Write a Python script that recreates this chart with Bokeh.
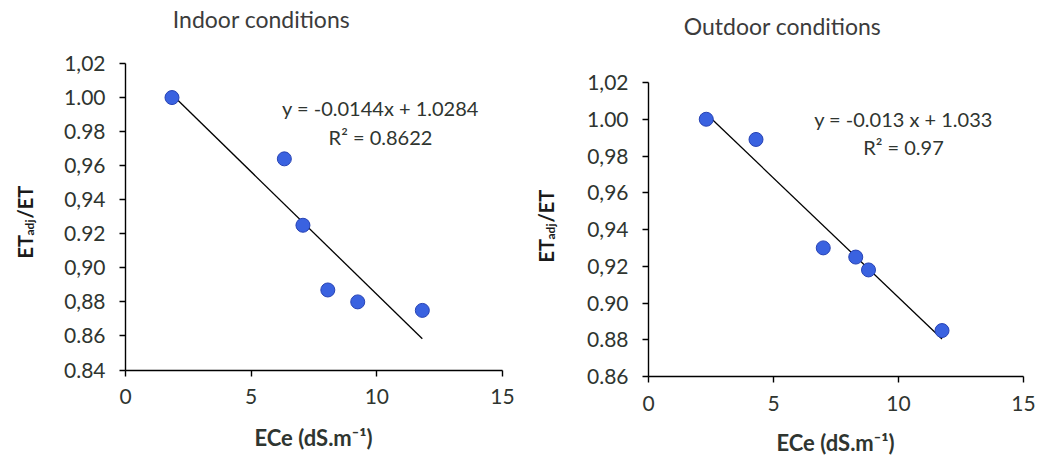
import math
from bokeh.plotting import figure
from bokeh.layouts import row
from bokeh.models import Label, FixedTicker, Range1d
from bokeh.embed import file_html
from bokeh.resources import INLINE

# ---- data ----
indoor_ece = [1.85, 6.32, 7.06, 8.05, 9.24, 11.81]
indoor_ratio = [1.000, 0.964, 0.925, 0.887, 0.880, 0.875]
indoor_slope = -0.0144
indoor_intercept = 1.0284
indoor_eq = "y = -0.0144x + 1.0284"
indoor_r2 = "R² = 0.8622"

outdoor_ece = [2.31, 4.30, 6.99, 8.29, 8.80, 11.74]
outdoor_ratio = [1.000, 0.989, 0.930, 0.925, 0.918, 0.885]
outdoor_slope = -0.013
outdoor_intercept = 1.033
outdoor_eq = "y = -0.013 x + 1.033"
outdoor_r2 = "R² = 0.97"

x_ticks = [0, 5, 10, 15]
indoor_yticks = [0.84, 0.86, 0.88, 0.90, 0.92, 0.94, 0.96, 0.98, 1.00, 1.02]
indoor_ylabels = ["0.84", "0.86", "0,88", "0,90", "0.92", "0,94", "0,96", "0.98", "1.00", "1,02"]
outdoor_yticks = [0.86, 0.88, 0.90, 0.92, 0.94, 0.96, 0.98, 1.00, 1.02]
outdoor_ylabels = ["0.86", "0.88", "0.90", "0,92", "0,94", "0,96", "0,98", "1.00", "1,02"]

FONT = "Lato"
TXT = "#2f3530"
MARK_FILL = "#3a62e0"
MARK_LINE = "#2743b5"
H = 455


def make_panel(xs, ys, slope, intercept, eq, r2, yticks, ylabels, title,
               width, off, frame, title_pos, eq_pos, r2_pos, xlab_pos, ylab_pos):
    # frame = (left px, right px, top px, bottom px) of the axis box, in page coordinates
    fl, fr, ft, fb = frame
    fl -= off
    fr -= off
    x0, x1 = x_ticks[0], x_ticks[-1]
    y0, y1 = yticks[0], yticks[-1]
    sx = (fr - fl) / (x1 - x0)
    sy = (fb - ft) / (y1 - y0)
    xr = Range1d(x0 - fl / sx, x1 + (width - fr) / sx)
    yr = Range1d(y0 - (H - fb) / sy, y1 + ft / sy)

    p = figure(width=width, height=H, output_backend="svg", toolbar_location=None,
               x_range=xr, y_range=yr, title=None,
               min_border_left=0, min_border_right=0, min_border_top=0, min_border_bottom=0)
    p.outline_line_color = None
    p.xgrid.visible = False
    p.ygrid.visible = False
    p.background_fill_color = "white"
    p.border_fill_color = "white"

    xa = p.xaxis[0]
    ya = p.yaxis[0]
    xa.fixed_location = y0
    ya.fixed_location = x0
    xa.bounds = (x0, x1)
    ya.bounds = (y0, y1)
    for ax in (xa, ya):
        ax.axis_line_color = "black"
        ax.axis_line_width = 1.4
        ax.major_tick_line_color = "black"
        ax.major_tick_line_width = 1.4
        ax.major_tick_out = 6
        ax.major_tick_in = 0
        ax.minor_tick_line_color = None
        ax.major_label_text_font = FONT
        ax.major_label_text_font_size = "21px"
        ax.major_label_text_color = TXT
    xa.ticker = FixedTicker(ticks=x_ticks)
    xa.major_label_standoff = 13
    ya.ticker = FixedTicker(ticks=yticks)
    ya.major_label_overrides = {t: l for t, l in zip(yticks, ylabels)}
    ya.major_label_standoff = 14

    # trend line from the chart's equation, over the data range
    tx = [min(xs), max(xs)]
    ty = [slope * v + intercept for v in tx]
    p.line(tx, ty, line_color="black", line_width=1.3)
    p.scatter(xs, ys, size=14, fill_color=MARK_FILL, line_color=MARK_LINE, line_width=1)

    def lab(pos, text, size, color=TXT, style="normal", **kw):
        p.add_layout(Label(x=pos[0] - off, y=H - pos[1], x_units="screen", y_units="screen",
                           text=text, text_font=FONT, text_font_size=size, text_color=color,
                           text_font_style=style, **kw))

    lab(title_pos, title, "23px", color="#3c3c3c", text_align="center", text_baseline="middle")
    lab(eq_pos, eq, "20px", text_align="center", text_baseline="middle")
    lab(r2_pos, r2, "20px", text_align="center", text_baseline="middle")
    lab(xlab_pos, "ECe (dS.m⁻¹)", "22px", style="bold", text_align="center", text_baseline="middle")

    # rotated y title: ET_adj/ET (page x center, page y of its lower end)
    yx, yy = ylab_pos
    lab((yx, yy), "ET", "20px", color="#1a1a1a", style="bold", angle=math.pi / 2,
        text_align="left", text_baseline="middle")
    lab((yx + 5, yy - 23), "adj", "12px", color="#1a1a1a", style="bold", angle=math.pi / 2,
        text_align="left", text_baseline="middle")
    lab((yx, yy - 40), "/ET", "20px", color="#1a1a1a", style="bold", angle=math.pi / 2,
        text_align="left", text_baseline="middle")
    return p


left = make_panel(indoor_ece, indoor_ratio, indoor_slope, indoor_intercept, indoor_eq, indoor_r2,
                  indoor_yticks, indoor_ylabels, "Indoor conditions",
                  520, 0, (125, 502, 63, 369.5),
                  title_pos=(261, 18), eq_pos=(380, 107), r2_pos=(380, 136),
                  xlab_pos=(313, 437), ylab_pos=(24, 258))

right = make_panel(outdoor_ece, outdoor_ratio, outdoor_slope, outdoor_intercept, outdoor_eq, outdoor_r2,
                   outdoor_yticks, outdoor_ylabels, "Outdoor conditions",
                   517, 520, (648, 1023, 82, 376),
                   title_pos=(782, 25), eq_pos=(903, 118), r2_pos=(903, 146),
                   xlab_pos=(835, 442), ylab_pos=(545, 262))

layout = row(left, right, spacing=0)
open("out.html", "w").write(file_html(layout, INLINE))
